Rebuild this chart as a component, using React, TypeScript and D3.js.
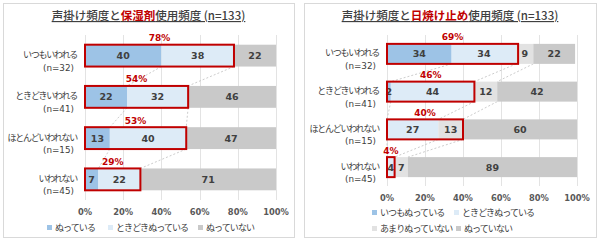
import { useEffect, useRef } from 'react';
import * as d3 from 'd3';

// rows (shared by both charts)
const rowLabels = ['いつもいわれる', 'ときどきいわれる', 'ほとんどいわれない', 'いわれない'];
const rowCounts = ['(n=32)', '(n=41)', '(n=15)', '(n=45)'];
const tickValues = [0, 20, 40, 60, 80, 100];

// 保湿剤
const moistTitle = ['声掛け頻度と', '保湿剤', '使用頻度 (n=133)'];
const moistSeries = ['ぬっている', 'ときどきぬっている', 'ぬっていない'];
const moistAlways = [40, 22, 13, 7];
const moistSometimes = [38, 32, 40, 22];
const moistNever = [22, 46, 47, 71];
const moistBoxPct = [78, 54, 53, 29];

// 日焼け止め
const sunTitle = ['声掛け頻度と', '日焼け止め', '使用頻度 (n=133)'];
const sunSeries = ['いつもぬっている', 'ときどきぬっている', 'あまりぬっていない', 'ぬっていない'];
const sunAlways = [34, 2, 0, 0];
const sunSometimes = [34, 44, 27, 4];
const sunRarely = [9, 12, 13, 7];
const sunNever = [22, 42, 60, 89];
const sunBoxPct = [69, 46, 40, 4];

const FONT = '"Noto Sans CJK JP", "Noto Sans", sans-serif';
const NUM_FONT = '"DejaVu Sans", sans-serif';
const TEXT = '#404040';
const RED = '#c00000';

interface Panel {
  frame: [number, number, number, number];
  title: string[];
  series: string[];
  values: number[][];
  colors: string[];
  boxPct: number[];
  left: number;
  right: number;
  top: number;
  bottom: number;
  legend: [number, number][];
}

const panels: Panel[] = [
  {
    frame: [3, 3, 291, 234],
    title: moistTitle,
    series: moistSeries,
    values: [moistAlways, moistSometimes, moistNever],
    colors: ['#9dc3e6', '#ddebf7', '#c9c9c9'],
    boxPct: moistBoxPct,
    left: 85,
    right: 276,
    top: 35,
    bottom: 200,
    legend: [[47, 227], [108, 227], [198, 227]],
  },
  {
    frame: [304, 3, 292, 234],
    title: sunTitle,
    series: sunSeries,
    values: [sunAlways, sunSometimes, sunRarely, sunNever],
    colors: ['#9dc3e6', '#ddebf7', '#e2e2e2', '#c9c9c9'],
    boxPct: sunBoxPct,
    left: 387,
    right: 577,
    top: 35,
    bottom: 186,
    legend: [[372, 212], [454, 212], [372, 228], [456, 228]],
  },
];

function drawPanel(root: d3.Selection<SVGSVGElement, unknown, null, undefined>, p: Panel) {
  const g = root.append('g').style('font-family', FONT);
  const [fx, fy, fw, fh] = p.frame;

  g.append('rect')
    .attr('x', fx + 0.5)
    .attr('y', fy + 0.5)
    .attr('width', fw)
    .attr('height', fh)
    .attr('fill', 'white')
    .attr('stroke', '#d9d9d9');

  const x = d3.scaleLinear().domain([0, 100]).range([p.left, p.right]);
  const y = d3
    .scaleBand<number>()
    .domain(d3.range(rowLabels.length))
    .range([p.top, p.bottom])
    .paddingInner(0.47)
    .paddingOuter(0.235);
  const bw = y.bandwidth();

  // title
  const t = g
    .append('text')
    .attr('x', fx + fw / 2)
    .attr('y', 20)
    .attr('text-anchor', 'middle')
    .attr('fill', TEXT)
    .attr('font-weight', 500)
    .style('font-size', '11.5px')
    .style('text-decoration', 'underline');
  t.append('tspan').text(p.title[0]);
  t.append('tspan').attr('fill', RED).attr('font-weight', 'bold').text(p.title[1]);
  t.append('tspan').text(p.title[2]);

  // grid
  g.selectAll('line.grid')
    .data(tickValues)
    .join('line')
    .attr('x1', (d) => Math.round(x(d)) + 0.5)
    .attr('x2', (d) => Math.round(x(d)) + 0.5)
    .attr('y1', p.top)
    .attr('y2', p.bottom)
    .attr('stroke', '#e3e3e3');

  g.selectAll('text.tick')
    .data(tickValues)
    .join('text')
    .attr('x', (d) => x(d))
    .attr('y', p.bottom + 15)
    .attr('text-anchor', 'middle')
    .attr('fill', '#595959')
    .attr('font-weight', 'bold')
    .style('font-family', NUM_FONT)
    .style('font-size', '8.3px')
    .text((d) => `${d}%`);

  // category labels
  rowLabels.forEach((lab, i) => {
    const cy = (y(i) as number) + bw / 2;
    g.append('text')
      .attr('x', p.left - 8)
      .attr('y', cy + 2.5)
      .attr('text-anchor', 'end')
      .attr('fill', TEXT)
      .style('font-size', '9px')
      .style('letter-spacing', '-1.2px')
      .text(lab);
    g.append('text')
      .attr('x', p.left - 11)
      .attr('y', cy + 15)
      .attr('text-anchor', 'end')
      .attr('fill', TEXT)
      .style('font-family', NUM_FONT)
      .style('font-size', '8.8px')
      .text(rowCounts[i]);
  });

  // stacks
  const rows = rowLabels.map((_, i) => p.values.map((s) => s[i]));
  const stack = d3
    .stack<number[], number>()
    .keys(d3.range(p.values.length))
    .value((d, k) => d[k]);
  const layers = stack(rows);

  // series lines
  layers.slice(0, -1).forEach((layer) => {
    for (let i = 0; i < rows.length - 1; i++) {
      g.append('line')
        .attr('x1', x(layer[i][1]))
        .attr('y1', (y(i) as number) + bw)
        .attr('x2', x(layer[i + 1][1]))
        .attr('y2', y(i + 1) as number)
        .attr('stroke', '#bfbfbf')
        .attr('stroke-width', 0.8)
        .attr('stroke-dasharray', '2,2');
    }
  });

  layers.forEach((layer, s) => {
    g.append('g')
      .selectAll('rect')
      .data(layer)
      .join('rect')
      .attr('x', (d) => x(d[0]))
      .attr('y', (_, i) => y(i) as number)
      .attr('width', (d) => x(d[1]) - x(d[0]))
      .attr('height', bw)
      .attr('fill', p.colors[s]);
  });

  layers.forEach((layer) => {
    g.append('g')
      .selectAll('text')
      .data(layer.filter((d) => d[1] - d[0] > 0).map((d) => ({ d, i: layer.indexOf(d) })))
      .join('text')
      .attr('x', (o) => (x(o.d[0]) + x(o.d[1])) / 2)
      .attr('y', (o) => (y(o.i) as number) + bw / 2 + 3.5)
      .attr('text-anchor', 'middle')
      .attr('fill', TEXT)
      .attr('font-weight', 'bold')
      .style('font-family', NUM_FONT)
      .style('font-size', '9.5px')
      .text((o) => o.d[1] - o.d[0]);
  });

  // highlight boxes
  p.boxPct.forEach((pct, i) => {
    const top = y(i) as number;
    g.append('rect')
      .attr('x', x(0))
      .attr('y', top)
      .attr('width', x(pct) - x(0))
      .attr('height', bw)
      .attr('fill', 'none')
      .attr('stroke', RED)
      .attr('stroke-width', 2);
    g.append('text')
      .attr('x', (x(0) + x(pct)) / 2)
      .attr('y', top - 3.5)
      .attr('text-anchor', 'middle')
      .attr('fill', RED)
      .attr('font-weight', 'bold')
      .style('font-family', NUM_FONT)
      .style('font-size', '9px')
      .text(`${pct}%`);
  });

  // legend
  p.series.forEach((name, s) => {
    const [lx, ly] = p.legend[s];
    g.append('rect')
      .attr('x', lx)
      .attr('y', ly - 2)
      .attr('width', 5)
      .attr('height', 5)
      .attr('fill', p.colors[s]);
    g.append('text')
      .attr('x', lx + 8)
      .attr('y', ly + 3.5)
      .attr('fill', TEXT)
      .style('font-size', '9px')
      .style('letter-spacing', '-0.9px')
      .text(name);
  });
}

export default function App() {
  const svgRef = useRef<SVGSVGElement>(null);

  useEffect(() => {
    if (!svgRef.current) return;
    const svg = d3.select(svgRef.current);
    svg.selectAll('*').remove();
    svg.append('rect').attr('width', 600).attr('height', 242).attr('fill', 'white');
    panels.forEach((p) => drawPanel(svg, p));
  }, []);

  return (
    <div style={{ position: 'fixed', left: 0, top: 0 }}>
      <svg ref={svgRef} width={600} height={242} style={{ display: 'block' }} />
    </div>
  );
}
